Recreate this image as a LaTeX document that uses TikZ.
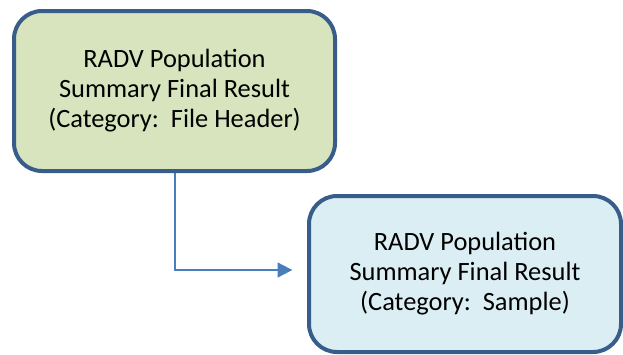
\documentclass[tikz,border=0pt]{standalone}
\usepackage{fontspec}
\setmainfont{Carlito}
\usetikzlibrary{arrows.meta}
\definecolor{edgeblue}{HTML}{385D8A}
\definecolor{linkblue}{HTML}{4A7EBB}
\definecolor{greenfill}{HTML}{D7E4BD}
\definecolor{bluefill}{HTML}{DBEEF4}
% three centred lines, set a little below the box centre
\newcommand{\cardlines}[1]{\raisebox{-3pt}{\begin{tabular}{@{}c@{}}#1\end{tabular}}}
\tikzset{
  card/.style={draw=edgeblue, line width=3pt, rounded corners=21pt,
    inner sep=0pt, font=\fontsize{19.8pt}{22.5pt}\selectfont},
  link/.style={draw=linkblue, line width=1.5pt,
    -{Triangle[length=11pt,width=11pt]}, shorten >=11pt}
}
\begin{document}
\begin{tikzpicture}[x=0.75pt, y=-0.75pt]
\useasboundingbox (0,0) rectangle (623,354);
\node[card, fill=greenfill, minimum width=240.75pt, minimum height=120pt]
  (header) at (174.5,91) {\cardlines{RADV Population\\Summary Final Result\\(Category:\ \ File Header)}};
\node[card, fill=bluefill, minimum width=234pt, minimum height=117pt]
  (sample) at (465,274) {\cardlines{RADV Population\\Summary Final Result\\(Category:\ \ Sample)}};
\draw[link] (header.south) |- ([yshift=3pt]sample.west);
\end{tikzpicture}
\end{document}
